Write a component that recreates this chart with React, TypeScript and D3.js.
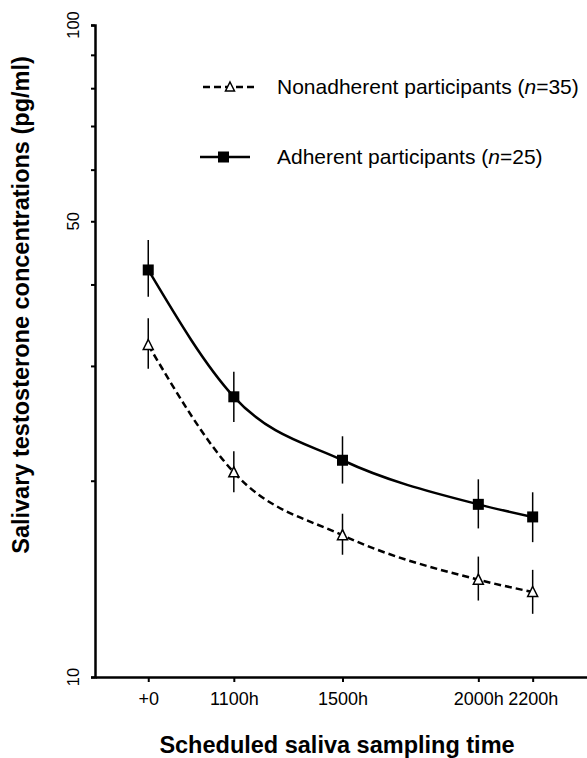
import React, { useRef, useEffect } from 'react'
import * as d3 from 'd3'

// sampling times (hours of day; +0 = awakening, ~07:50)
const hours = [7.85, 11, 15, 20, 22]
const tickLabels = ['+0', '1100h', '1500h', '2000h', '2200h']

// salivary testosterone (pg/ml), mean with error range
const adherentMean = [42.1, 26.9, 21.5, 18.4, 17.6]
const adherentHigh = [46.8, 29.4, 23.4, 20.1, 19.2]
const adherentLow = [38.3, 24.6, 19.8, 16.9, 16.1]

const nonadherentMean = [32.3, 20.6, 16.5, 14.1, 13.5]
const nonadherentHigh = [35.5, 22.2, 17.8, 15.3, 14.6]
const nonadherentLow = [29.7, 19.2, 15.4, 13.1, 12.5]

const yMajorTicks = [10, 50, 100]
const yMinorTicks = [20, 30, 40, 60, 70, 80, 90]

const FONT = '"Liberation Sans", Arial, Helvetica, sans-serif'

const App = () => {
  const svgRef = useRef<SVGSVGElement>(null)

  useEffect(() => {
    const svg = d3.select(svgRef.current)
    svg.selectAll('*').remove()

    const left = 95
    const top = 25
    const bottom = 677
    const right = 587

    const x = d3.scaleLinear().domain([5.89, 24]).range([left, right])
    const y = d3.scaleLog().domain([10, 100]).range([bottom, top])

    // y axis
    const yAxis = svg
      .append('g')
      .attr('transform', `translate(${left},0)`)
      .call(
        d3.axisLeft(y)
          .tickValues([...yMajorTicks, ...yMinorTicks])
          .tickSize(4)
          .tickFormat(() => '')
      )
    yAxis.select('.domain').attr('stroke', '#000').attr('stroke-width', 2.5)
    yAxis.selectAll('.tick line').attr('stroke', '#000').attr('stroke-width', 2)

    svg
      .append('g')
      .selectAll('text')
      .data(yMajorTicks)
      .enter()
      .append('text')
      .attr('transform', d => `translate(79,${y(d)}) rotate(-90)`)
      .attr('text-anchor', 'middle')
      .attr('font-family', FONT)
      .attr('font-size', 16.5)
      .text(d => d)

    // x axis
    const xAxis = svg
      .append('g')
      .attr('transform', `translate(0,${bottom})`)
      .call(
        d3.axisBottom(x)
          .tickValues(hours)
          .tickSize(5)
          .tickSizeOuter(0)
          .tickPadding(10)
          .tickFormat((d, i) => tickLabels[i])
      )
    xAxis.select('.domain').attr('stroke', '#000').attr('stroke-width', 2.5)
    xAxis.selectAll('.tick line').attr('stroke', '#000').attr('stroke-width', 2)
    xAxis
      .selectAll('.tick text')
      .attr('font-family', FONT)
      .attr('font-size', 18)
      .attr('fill', '#000')

    // axis titles
    svg
      .append('text')
      .attr('x', 337)
      .attr('y', 753)
      .attr('text-anchor', 'middle')
      .attr('font-family', FONT)
      .attr('font-weight', 'bold')
      .attr('font-size', 23.5)
      .text('Scheduled saliva sampling time')

    svg
      .append('text')
      .attr('transform', 'translate(29,305) rotate(-90)')
      .attr('text-anchor', 'middle')
      .attr('font-family', FONT)
      .attr('font-weight', 'bold')
      .attr('font-size', 23.5)
      .text('Salivary testosterone concentrations (pg/ml)')

    const line = d3
      .line<number>()
      .x((d, i) => x(hours[i]))
      .y(d => y(d))
      .curve(d3.curveMonotoneX)

    const drawSeries = (mean, high, low, dashed, marker) => {
      const g = svg.append('g')
      g.selectAll('line.err')
        .data(mean)
        .enter()
        .append('line')
        .attr('x1', (d, i) => x(hours[i]))
        .attr('x2', (d, i) => x(hours[i]))
        .attr('y1', (d, i) => y(high[i]))
        .attr('y2', (d, i) => y(low[i]))
        .attr('stroke', '#000')
        .attr('stroke-width', 1.5)

      g.append('path')
        .datum(mean)
        .attr('d', line)
        .attr('fill', 'none')
        .attr('stroke', '#000')
        .attr('stroke-width', 2.5)
        .attr('stroke-dasharray', dashed ? '7,4' : null)

      if (marker === 'square') {
        g.selectAll('rect')
          .data(mean)
          .enter()
          .append('rect')
          .attr('x', (d, i) => x(hours[i]) - 5.5)
          .attr('y', d => y(d) - 5.5)
          .attr('width', 11)
          .attr('height', 11)
          .attr('fill', '#000')
      } else {
        g.selectAll('path.tri')
          .data(mean)
          .enter()
          .append('path')
          .attr('class', 'tri')
          .attr('transform', (d, i) => `translate(${x(hours[i])},${y(d)})`)
          .attr('d', 'M0,-5.5L5,4.5L-5,4.5Z')
          .attr('fill', '#fff')
          .attr('stroke', '#000')
          .attr('stroke-width', 1.5)
      }
    }

    drawSeries(nonadherentMean, nonadherentHigh, nonadherentLow, true, 'triangle')
    drawSeries(adherentMean, adherentHigh, adherentLow, false, 'square')

    // legend
    const legend = svg.append('g').attr('font-family', FONT).attr('font-size', 21)
    const l1 = 87
    legend.append('line')
      .attr('x1', 203).attr('x2', 254).attr('y1', l1).attr('y2', l1)
      .attr('stroke', '#000').attr('stroke-width', 2.5).attr('stroke-dasharray', '7,4')
    legend.append('path')
      .attr('transform', `translate(230,${l1})`)
      .attr('d', 'M0,-5L4.5,4L-4.5,4Z')
      .attr('fill', '#fff').attr('stroke', '#000').attr('stroke-width', 1.5)
    const t1 = legend.append('text').attr('x', 277).attr('y', l1 + 7)
    t1.append('tspan').text('Nonadherent participants (')
    t1.append('tspan').attr('font-style', 'italic').text('n')
    t1.append('tspan').text('=35)')

    const l2 = 157
    legend.append('line')
      .attr('x1', 200).attr('x2', 250).attr('y1', l2).attr('y2', l2)
      .attr('stroke', '#000').attr('stroke-width', 2.5)
    legend.append('rect')
      .attr('x', 218).attr('y', l2 - 5.5).attr('width', 11).attr('height', 11)
      .attr('fill', '#000')
    const t2 = legend.append('text').attr('x', 277).attr('y', l2 + 7)
    t2.append('tspan').text('Adherent participants (')
    t2.append('tspan').attr('font-style', 'italic').text('n')
    t2.append('tspan').text('=25)')
  }, [])

  return (
    <svg
      ref={svgRef}
      width={587}
      height={758}
      style={{ position: 'absolute', left: 0, top: 0, background: '#fff' }}
    />
  )
}

export default App
